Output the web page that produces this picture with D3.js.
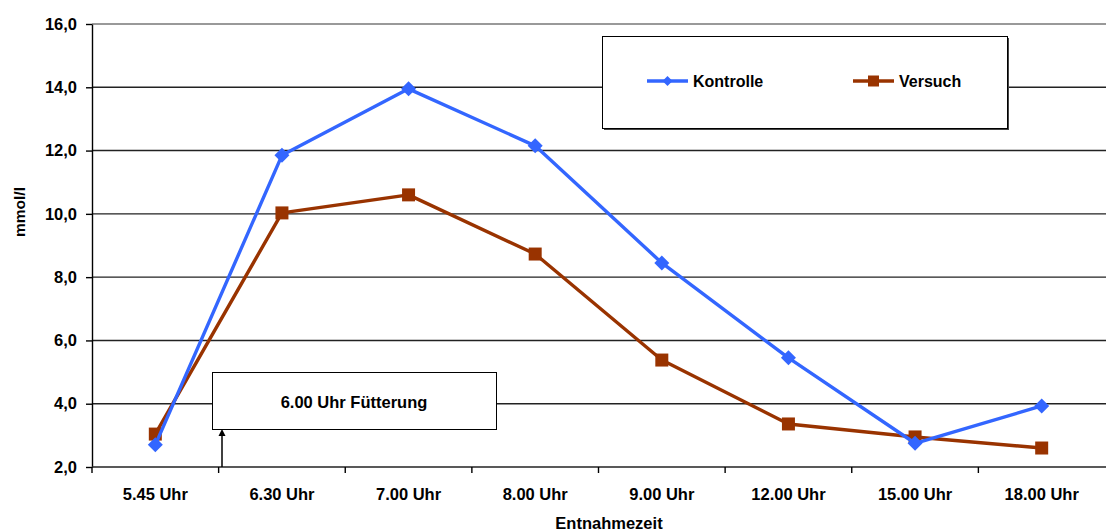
<!DOCTYPE html>
<html>
<head>
<meta charset="utf-8">
<script src="https://cdn.jsdelivr.net/npm/d3@7"></script>
<style>
  html, body { margin: 0; padding: 0; background: #fff; }
  svg { display: block; font-family: "Liberation Sans", Arial, sans-serif; font-weight: bold; }
</style>
</head>
<body>
<svg id="chart" width="1106" height="531"></svg>
<script>
// Entnahmezeitpunkte
const categories = ["5.45 Uhr", "6.30 Uhr", "7.00 Uhr", "8.00 Uhr", "9.00 Uhr", "12.00 Uhr", "15.00 Uhr", "18.00 Uhr"];
// Messwerte in mmol/l
const kontrolle = [2.7, 11.85, 13.95, 12.15, 8.45, 5.45, 2.75, 3.93];
const versuch   = [3.04, 10.03, 10.6, 8.73, 5.38, 3.36, 2.95, 2.6];
const yTicks = [2, 4, 6, 8, 10, 12, 14, 16];

const colors = { Kontrolle: "#3366ff", Versuch: "#993300" };

const svg = d3.select("#chart");
const plotLeft = 92, plotRight = 1105, plotTop = 24, plotBottom = 467;
const fontSize = 16.5;

const x = d3.scaleBand().domain(categories).range([plotLeft, plotRight]).padding(0);
const y = d3.scaleLinear().domain([2, 16]).range([plotBottom, plotTop]);
const fmt = v => d3.format(".1f")(v).replace(".", ",");

// horizontal gridlines
svg.append("g")
  .selectAll("line")
  .data(yTicks.slice(1))
  .join("line")
  .attr("x1", plotLeft).attr("x2", 1106)
  .attr("y1", d => y(d)).attr("y2", d => y(d))
  .attr("stroke", d => d === 16 ? "#777" : "#222")
  .attr("stroke-width", 1.4);

// y axis
const yAxis = svg.append("g")
  .attr("transform", `translate(${plotLeft},0)`)
  .call(d3.axisLeft(y).tickValues(yTicks).tickFormat(fmt).tickSize(6).tickSizeOuter(0));
yAxis.select(".domain").attr("stroke", "#000").attr("stroke-width", 1.4);
yAxis.selectAll(".tick line").attr("stroke", "#000").attr("stroke-width", 1.4);
yAxis.selectAll(".tick text")
  .attr("x", -15)
  .attr("font-size", fontSize).attr("font-weight", "bold")
  .attr("font-family", "Liberation Sans, Arial, sans-serif")
  .attr("fill", "#000");

// x axis with ticks at category boundaries
const xg = svg.append("g").attr("transform", `translate(0,${plotBottom})`);
xg.append("line").attr("x1", plotLeft).attr("x2", 1106).attr("stroke", "#222").attr("stroke-width", 1.4);
xg.selectAll("line.tk")
  .data(categories)
  .join("line")
  .attr("class", "tk")
  .attr("x1", d => x(d)).attr("x2", d => x(d))
  .attr("y1", 0).attr("y2", 6)
  .attr("stroke", "#000").attr("stroke-width", 1.4);
xg.selectAll("text")
  .data(categories)
  .join("text")
  .attr("x", d => x(d) + x.bandwidth() / 2)
  .attr("y", 33)
  .attr("text-anchor", "middle")
  .attr("font-size", fontSize)
  .attr("fill", "#000")
  .text(d => d);

// axis titles
svg.append("text")
  .attr("transform", `translate(25,212) rotate(-90)`)
  .attr("text-anchor", "middle")
  .attr("font-size", 15.5)
  .text("mmol/l");
svg.append("text")
  .attr("x", 609).attr("y", 528.5)
  .attr("text-anchor", "middle")
  .attr("font-size", 16.5)
  .text("Entnahmezeit");

// feeding annotation
const annot = svg.append("g");
annot.append("rect")
  .attr("x", 212.5).attr("y", 372.5).attr("width", 284).attr("height", 57)
  .attr("fill", "#fff").attr("stroke", "#000").attr("stroke-width", 1);
annot.append("text")
  .attr("x", 354).attr("y", 408)
  .attr("text-anchor", "middle")
  .attr("font-size", 16.5)
  .text("6.00 Uhr Fütterung");
annot.append("line")
  .attr("x1", 222).attr("x2", 222).attr("y1", plotBottom).attr("y2", 435)
  .attr("stroke", "#000").attr("stroke-width", 1.5);
annot.append("path")
  .attr("d", "M222,429 L218.5,436 L225.5,436 Z")
  .attr("fill", "#000");

// marker shapes
function diamond(r) { return `M0,${-r}L${r},0L0,${r}L${-r},0Z`; }
function square(r) { return `M${-r},${-r}H${r}V${r}H${-r}Z`; }

const series = [
  { name: "Kontrolle", values: kontrolle, shape: diamond, r: 7.5 },
  { name: "Versuch", values: versuch, shape: square, r: 6.5 }
];

const line = d3.line()
  .x((d, i) => x(categories[i]) + x.bandwidth() / 2)
  .y(d => y(d));

// Versuch drawn first, Kontrolle on top
[series[1], series[0]].forEach(s => {
  const g = svg.append("g");
  g.append("path")
    .datum(s.values)
    .attr("d", line)
    .attr("fill", "none")
    .attr("stroke", colors[s.name])
    .attr("stroke-width", 3.4)
    .attr("stroke-linejoin", "round");
  g.selectAll("path.m")
    .data(s.values)
    .join("path")
    .attr("class", "m")
    .attr("transform", (d, i) => `translate(${x(categories[i]) + x.bandwidth() / 2},${y(d)})`)
    .attr("d", s.shape(s.r))
    .attr("fill", colors[s.name]);
});

// legend
const lg = svg.append("g");
lg.append("rect")
  .attr("x", 604).attr("y", 38).attr("width", 405).attr("height", 92)
  .attr("fill", "#444");
lg.append("rect")
  .attr("x", 602.5).attr("y", 36.5).attr("width", 405).attr("height", 92)
  .attr("fill", "#fff").attr("stroke", "#000").attr("stroke-width", 1);
const legendItems = [
  { name: "Kontrolle", x0: 647, shape: diamond, r: 5 },
  { name: "Versuch", x0: 853, shape: square, r: 5.5 }
];
legendItems.forEach(it => {
  const ly = 81;
  lg.append("line")
    .attr("x1", it.x0).attr("x2", it.x0 + 41)
    .attr("y1", ly).attr("y2", ly)
    .attr("stroke", colors[it.name]).attr("stroke-width", 3.4);
  lg.append("path")
    .attr("transform", `translate(${it.x0 + 20.5},${ly})`)
    .attr("d", it.shape(it.r))
    .attr("fill", colors[it.name]);
  lg.append("text")
    .attr("x", it.x0 + 46).attr("y", ly + 5.5)
    .attr("font-size", 16)
    .text(it.name);
});
</script>
</body>
</html>
